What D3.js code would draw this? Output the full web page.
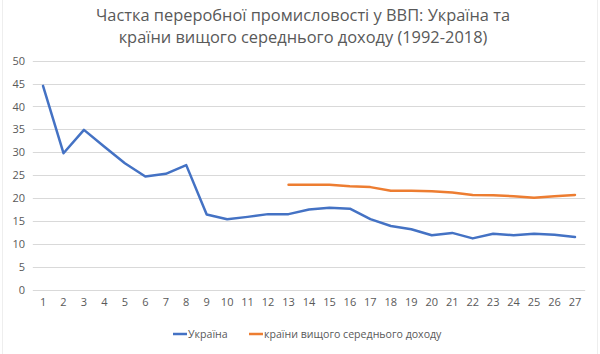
<!DOCTYPE html>
<html>
<head>
<meta charset="utf-8">
<script src="https://cdn.jsdelivr.net/npm/d3@7"></script>
<style>
  body { margin: 0; background: #fff; }
  svg { display: block; font-family: "Open Sans", "Noto Sans", sans-serif; }
</style>
</head>
<body>
<svg width="600" height="354"></svg>
<script>
// Data
const categories = d3.range(1, 28);
const ukraine = [44.5, 29.8, 34.9, 31.2, 27.6, 24.7, 25.3, 27.2, 16.4, 15.4, 15.9, 16.5, 16.5,
                 17.5, 17.9, 17.7, 15.4, 13.9, 13.2, 11.9, 12.4, 11.2, 12.2, 11.9, 12.2, 12.0, 11.5];
// upper-middle income series starts at category 13
const umic = [null, null, null, null, null, null, null, null, null, null, null, null,
              22.9, 22.9, 22.9, 22.6, 22.4, 21.6, 21.6, 21.5, 21.2, 20.7, 20.6, 20.4, 20.1, 20.4, 20.7];
const yTicks = [0, 5, 10, 15, 20, 25, 30, 35, 40, 45, 50];
const seriesNames = ["Україна", "країни вищого середнього доходу"];
const colors = ["#4472C4", "#ED7D31"];
const titleLines = ["Частка переробної промисловості у ВВП: Україна та", "країни вищого середнього доходу (1992-2018)"];

var svg = d3.select("svg");

// faint chart border
svg.append("rect")
    .attr("x", 2.5).attr("y", -1).attr("width", 595).attr("height", 356)
    .attr("fill", "none").attr("stroke", "#eeeeee");

// Title
svg.append("g").selectAll("text")
    .data(titleLines)
    .enter().append("text")
    .attr("x", 303)
    .attr("y", function (d, i) { return 21 + i * 22; })
    .attr("text-anchor", "middle")
    .attr("font-size", "16.4px")
    .attr("fill", "#595959")
    .text(function (d) { return d; });

// Scales
var x = d3.scaleBand().domain(categories).range([32.8, 585.2]);
var y = d3.scaleLinear().domain([0, 50]).range([289.7, 60.7]);

// Gridlines
svg.append("g").selectAll("line")
    .data(yTicks)
    .enter().append("line")
    .attr("x1", 32.8).attr("x2", 585.2)
    .attr("y1", function (d) { return Math.round(y(d)) + 0.5; })
    .attr("y2", function (d) { return Math.round(y(d)) + 0.5; })
    .attr("stroke", "#d9d9d9")
    .attr("stroke-width", 1);

// Y axis labels
var yAxis = svg.append("g")
    .attr("transform", "translate(32,0)")
    .call(d3.axisLeft(y).tickValues(yTicks).tickSize(0).tickPadding(7));
yAxis.select(".domain").remove();
yAxis.selectAll("text").attr("fill", "#595959").attr("font-size", "11px")
    .attr("font-family", "'Open Sans', sans-serif");

// X axis labels
var xAxis = svg.append("g")
    .attr("transform", "translate(0,289.7)")
    .call(d3.axisBottom(x).tickSize(0).tickPadding(9));
xAxis.select(".domain").remove();
xAxis.selectAll("text").attr("fill", "#595959").attr("font-size", "11px")
    .attr("font-family", "'Open Sans', sans-serif");

// Lines
var line = d3.line()
    .defined(function (d) { return d.v != null; })
    .x(function (d) { return x(d.c) + x.bandwidth() / 2; })
    .y(function (d) { return y(d.v); });

[ukraine, umic].forEach(function (vals, i) {
    svg.append("path")
        .datum(categories.map(function (c, j) { return { c: c, v: vals[j] }; }))
        .attr("fill", "none")
        .attr("stroke", colors[i])
        .attr("stroke-width", 2.5)
        .attr("stroke-linejoin", "round")
        .attr("stroke-linecap", "round")
        .attr("d", line);
});

// Legend
var legendX = [173, 249];
var legend = svg.append("g");
seriesNames.forEach(function (name, i) {
    legend.append("line")
        .attr("x1", legendX[i]).attr("x2", legendX[i] + 14)
        .attr("y1", 334).attr("y2", 334)
        .attr("stroke", colors[i]).attr("stroke-width", 2.5);
    legend.append("text")
        .attr("x", legendX[i] + 15)
        .attr("y", 338)
        .attr("font-size", "10.6px")
        .attr("fill", "#595959")
        .text(name);
});
</script>
</body>
</html>
